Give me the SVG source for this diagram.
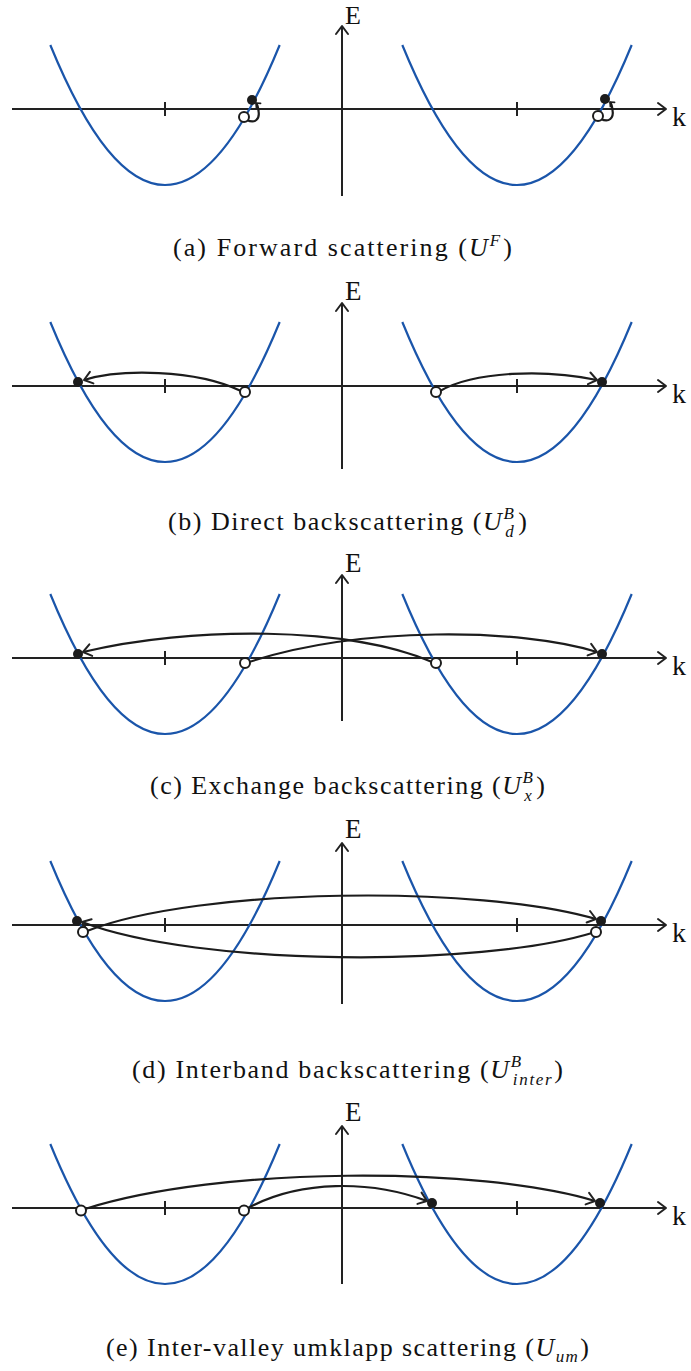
<svg xmlns="http://www.w3.org/2000/svg" width="691" height="1371" viewBox="0 0 691 1371">
<style>
.ax{stroke:#222;stroke-width:2;fill:none}
.band{stroke:#1a55aa;stroke-width:2.2;fill:none}
.con{stroke:#1c1c1c;stroke-width:2.2;fill:none}
.fd{fill:#1c1c1c}
.od{fill:#fff;stroke:#1c1c1c;stroke-width:2}
.lab{font-family:"Liberation Serif","DejaVu Serif",serif;fill:#111}
.cap{font-family:"Liberation Serif","DejaVu Serif",serif;font-size:26px;fill:#111;text-anchor:middle}
.it{font-style:italic}
</style>
<defs>
<marker id="ah" markerUnits="userSpaceOnUse" markerWidth="20" markerHeight="20" viewBox="-12 -10 20 20" refX="0" refY="0" orient="auto" overflow="visible">
<path d="M-8,-6 L0,0 L-8,6" fill="none" stroke="#222" stroke-width="2" stroke-linecap="round" stroke-linejoin="round"/>
</marker>
<marker id="sm" markerUnits="userSpaceOnUse" markerWidth="10" markerHeight="10" viewBox="-6 -5 10 10" refX="0" refY="0" orient="auto" overflow="visible">
<path d="M-3.5,-3 L0,0 L-3.5,3" fill="none" stroke="#1c1c1c" stroke-width="1.6" stroke-linecap="round"/>
</marker>
<g id="axes">
<line class="ax" x1="12" y1="0" x2="666" y2="0" marker-end="url(#ah)"/>
<line class="ax" x1="165" y1="-7" x2="165" y2="7"/>
<line class="ax" x1="517" y1="-7" x2="517" y2="7"/>
<path class="band" d="M50.3,-64 Q165,216 279.7,-64"/>
<path class="band" d="M402.3,-64 Q517,216 631.7,-64"/>
<text class="lab" x="672" y="17" font-size="28">k</text>
</g>
</defs>

<g id="panel-a" transform="translate(0,109)">
<use href="#axes"/>
<line class="ax" x1="342" y1="87" x2="342" y2="-83" marker-end="url(#ah)"/>
<text class="lab" x="345" y="-85" font-size="26">E</text>
<g id="connectors-a">
<path class="con" d="M247,11 C255,15 260,10 258.5,2 C258,-3 257,-5 256,-6" marker-end="url(#sm)"/>
<path class="con" d="M601,10 C609,14 614,9 612.5,1 C612,-4 611,-6 610,-7" marker-end="url(#sm)"/>
</g>
<circle class="fd" cx="252" cy="-9" r="5"/>
<circle class="od" cx="244" cy="8" r="5"/>
<circle class="fd" cx="605" cy="-10" r="5"/>
<circle class="od" cx="598" cy="7" r="5"/>
</g>
<text class="cap" x="342.5" y="256" textLength="339" lengthAdjust="spacing">(a) Forward scattering (<tspan class="it">U</tspan><tspan class="it" font-size="17" dy="-10">F</tspan><tspan dy="10" dx="1">)</tspan></text>

<g id="panel-b" transform="translate(0,386)">
<use href="#axes"/>
<line class="ax" x1="342" y1="83" x2="342" y2="-83" marker-end="url(#ah)"/>
<text class="lab" x="345" y="-86" font-size="27">E</text>
<g id="connectors-b">
<path class="con" d="M241,5 C195,-17 120,-17 84,-6" marker-end="url(#ah)"/>
<path class="con" d="M440,5 C475,-15 545,-17 597,-6" marker-end="url(#ah)"/>
</g>
<circle class="fd" cx="78" cy="-4" r="5"/>
<circle class="od" cx="245" cy="6" r="5"/>
<circle class="od" cx="436" cy="6" r="5"/>
<circle class="fd" cx="602" cy="-4" r="5"/>
</g>
<text class="cap" x="347.5" y="530" textLength="359" lengthAdjust="spacing">(b) Direct backscattering (<tspan class="it">U</tspan><tspan class="it" font-size="17" dy="-11">B</tspan><tspan class="it" font-size="17" dx="-10" dy="18">d</tspan><tspan dy="-7" dx="3">)</tspan></text>

<g id="panel-c" transform="translate(0,658)">
<use href="#axes"/>
<line class="ax" x1="342" y1="63" x2="342" y2="-83" marker-end="url(#ah)"/>
<text class="lab" x="345" y="-86" font-size="27">E</text>
<g id="connectors-c">
<path class="con" d="M249,4 C360,-32 520,-30 597,-6" marker-end="url(#ah)"/>
<path class="con" d="M432,4 C350,-32 190,-32 83,-6" marker-end="url(#ah)"/>
</g>
<circle class="fd" cx="78" cy="-4" r="5"/>
<circle class="od" cx="245" cy="5" r="5"/>
<circle class="od" cx="436" cy="5" r="5"/>
<circle class="fd" cx="602" cy="-4" r="5"/>
</g>
<text class="cap" x="347.5" y="794" textLength="395" lengthAdjust="spacing">(c) Exchange backscattering (<tspan class="it">U</tspan><tspan class="it" font-size="17" dy="-11">B</tspan><tspan class="it" font-size="17" dx="-10" dy="18">x</tspan><tspan dy="-7" dx="3">)</tspan></text>

<g id="panel-d" transform="translate(0,925)">
<use href="#axes"/>
<line class="ax" x1="342" y1="79" x2="342" y2="-82" marker-end="url(#ah)"/>
<text class="lab" x="345" y="-87" font-size="27">E</text>
<g id="connectors-d">
<path class="con" d="M87,6 C200,-38 480,-40 596,-6" marker-end="url(#ah)"/>
<path class="con" d="M592,8 C480,42 200,42 82,-3" marker-end="url(#ah)"/>
</g>
<circle class="fd" cx="77" cy="-4" r="5"/>
<circle class="od" cx="83" cy="7" r="5"/>
<circle class="fd" cx="601" cy="-4" r="5"/>
<circle class="od" cx="596" cy="7" r="5"/>
</g>
<text class="cap" x="347.5" y="1078" textLength="431" lengthAdjust="spacing">(d) Interband backscattering (<tspan class="it">U</tspan><tspan class="it" font-size="17" dy="-11">B</tspan><tspan class="it" font-size="17" dx="-10" dy="18">inter</tspan><tspan dy="-7" dx="1">)</tspan></text>

<g id="panel-e" transform="translate(0,1208)">
<use href="#axes"/>
<line class="ax" x1="342" y1="76" x2="342" y2="-82" marker-end="url(#ah)"/>
<text class="lab" x="345" y="-87" font-size="27">E</text>
<g id="connectors-e">
<path class="con" d="M85,1 C220,-42 480,-42 595,-7" marker-end="url(#ah)"/>
<path class="con" d="M248,0 C300,-28 370,-28 427,-7" marker-end="url(#ah)"/>
</g>
<circle class="od" cx="81" cy="2.5" r="5"/>
<circle class="od" cx="244" cy="2.5" r="5"/>
<circle class="fd" cx="432" cy="-5" r="5"/>
<circle class="fd" cx="600" cy="-5" r="5"/>
</g>
<text class="cap" x="347.5" y="1356" textLength="483" lengthAdjust="spacing">(e) Inter-valley umklapp scattering (<tspan class="it">U</tspan><tspan class="it" font-size="17" dy="6">um</tspan><tspan dy="-6" dx="1">)</tspan></text>
</svg>
